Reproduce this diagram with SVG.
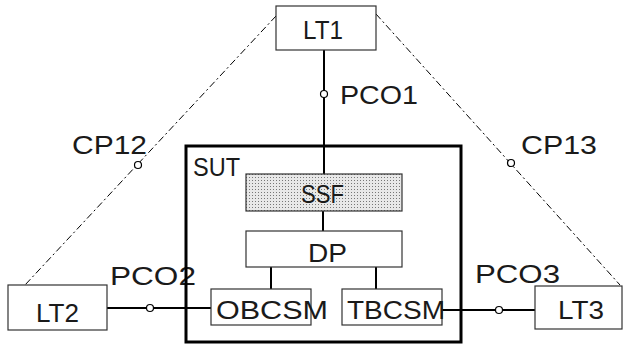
<svg xmlns="http://www.w3.org/2000/svg" width="625" height="345" viewBox="0 0 625 345">
<defs>
<pattern id="dots" width="3" height="3" patternUnits="userSpaceOnUse">
<rect width="3" height="3" fill="#e8e8e8"/>
<rect x="0" y="0" width="1" height="1" fill="#777"/>
</pattern>
<style>
.box{fill:#fff;stroke:#333;stroke-width:1.2}
.lbl{font-family:"Liberation Sans",Arial,sans-serif;font-size:25px;fill:#1a1a1a}
.wire{stroke:#000;stroke-width:2;fill:none}
.dash{stroke:#000;stroke-width:1;stroke-dasharray:7,3,2,3;fill:none}
.pt{fill:#fff;stroke:#000;stroke-width:1.2}
</style>
</defs>
<g id="connectors">
<line class="dash" x1="276" y1="16" x2="25" y2="285"/>
<line class="dash" x1="376" y1="14" x2="620" y2="285"/>
<line class="wire" x1="324" y1="50" x2="324" y2="174"/>
<line class="wire" x1="323" y1="211" x2="323" y2="231"/>
<line class="wire" x1="271" y1="267" x2="271" y2="289"/>
<line class="wire" x1="376" y1="267" x2="376" y2="289"/>
<line class="wire" x1="107" y1="308" x2="211" y2="308"/>
<line class="wire" x1="440" y1="310" x2="535" y2="310"/>
<circle class="pt" cx="324" cy="94" r="3.5"/>
<circle class="pt" cx="138" cy="165" r="3.5"/>
<circle class="pt" cx="511" cy="163" r="3.5"/>
<circle class="pt" cx="150" cy="308" r="3.5"/>
<circle class="pt" cx="499" cy="310" r="3.5"/>
<text class="lbl" x="340" y="104" textLength="78" lengthAdjust="spacingAndGlyphs">PCO1</text>
<text class="lbl" x="72" y="154" textLength="75" lengthAdjust="spacingAndGlyphs">CP12</text>
<text class="lbl" x="521" y="154" textLength="76" lengthAdjust="spacingAndGlyphs">CP13</text>
<text class="lbl" x="110" y="285" textLength="86" lengthAdjust="spacingAndGlyphs">PCO2</text>
<text class="lbl" x="475" y="283" textLength="85" lengthAdjust="spacingAndGlyphs">PCO3</text>
</g>
<g id="SUT">
<rect x="186" y="146" width="275" height="196" fill="none" stroke="#000" stroke-width="3"/>
<text class="lbl" x="193" y="176" textLength="47" lengthAdjust="spacingAndGlyphs">SUT</text>
</g>
<g id="LT1">
<rect class="box" x="276" y="6" width="100" height="44"/>
<text class="lbl" x="303" y="39" textLength="40" lengthAdjust="spacingAndGlyphs">LT1</text>
</g>
<g id="LT2">
<rect class="box" x="8" y="285" width="99" height="45"/>
<text class="lbl" x="36" y="322" textLength="43" lengthAdjust="spacingAndGlyphs">LT2</text>
</g>
<g id="LT3">
<rect class="box" x="535" y="286" width="87" height="43"/>
<text class="lbl" x="558" y="319" textLength="46" lengthAdjust="spacingAndGlyphs">LT3</text>
</g>
<g id="SSF">
<rect x="246" y="174" width="156" height="37" fill="url(#dots)" stroke="#333" stroke-width="1.2"/>
<text class="lbl" x="301" y="203" textLength="43" lengthAdjust="spacingAndGlyphs">SSF</text>
</g>
<g id="DP">
<rect class="box" x="246" y="231" width="156" height="36"/>
<text class="lbl" x="308" y="262" textLength="39" lengthAdjust="spacingAndGlyphs">DP</text>
</g>
<g id="OBCSM">
<rect class="box" x="211" y="289" width="100" height="36"/>
<text class="lbl" x="216" y="319" textLength="112" lengthAdjust="spacingAndGlyphs">OBCSM</text>
</g>
<g id="TBCSM">
<rect class="box" x="342" y="289" width="100" height="36"/>
<text class="lbl" x="347" y="319" textLength="98" lengthAdjust="spacingAndGlyphs">TBCSM</text>
</g>
</svg>
